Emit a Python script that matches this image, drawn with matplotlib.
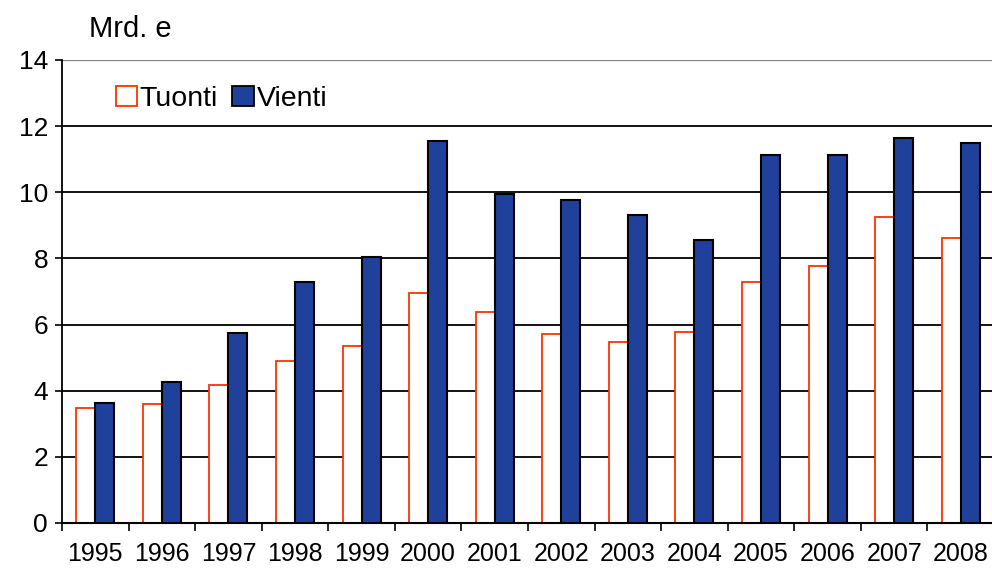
import matplotlib
matplotlib.use("Agg")
import matplotlib.pyplot as plt
import numpy as np
from matplotlib.patches import Patch

plt.rcParams['font.family'] = ['Liberation Sans', 'DejaVu Sans']

years = ['1995', '1996', '1997', '1998', '1999', '2000', '2001', '2002',
         '2003', '2004', '2005', '2006', '2007', '2008']
tuonti = [3.47, 3.59, 4.16, 4.90, 5.36, 6.96, 6.39, 5.71, 5.48, 5.77, 7.30, 7.77, 9.25, 8.63]
vienti = [3.64, 4.26, 5.75, 7.30, 8.05, 11.54, 9.94, 9.77, 9.30, 8.56, 11.14, 11.14, 11.65, 11.48]
yticks = [0, 2, 4, 6, 8, 10, 12, 14]

fig = plt.figure(figsize=(9.92, 5.72), dpi=100)
ax = fig.add_axes([0.0625, 0.0857, 0.9395, 0.8095])

x = np.arange(len(years))
w = 0.286
red = '#FF3300'
blue = '#1F409B'

for yv in yticks[1:-1]:
    ax.axhline(yv, color='black', lw=1.3, zorder=1)
ax.axhline(14, color='#808080', lw=1.6, zorder=1)

ax.bar(x - w / 2, tuonti, w, facecolor='white', edgecolor=red, lw=1.3, zorder=2, label='Tuonti')
ax.bar(x + w / 2, vienti, w, facecolor=blue, edgecolor='black', lw=1.5, zorder=3, label='Vienti')

ax.set_xlim(-0.5, len(years) - 0.5)
ax.set_ylim(0, 14)
ax.set_yticks(yticks)
ax.set_yticklabels([str(v) for v in yticks], fontsize=19)
ax.set_xticks(x)
ax.set_xticklabels(years, fontsize=18)
ax.set_xticks(np.arange(-0.5, len(years), 1), minor=True)
ax.tick_params(axis='x', which='major', length=0, pad=14)
ax.tick_params(axis='x', which='minor', length=6, width=1.2, direction='out')
ax.tick_params(axis='y', length=5, width=1.2, direction='out', pad=5)

for s in ['top', 'right']:
    ax.spines[s].set_visible(False)
ax.spines['left'].set_linewidth(1.3)
ax.spines['bottom'].set_linewidth(1.5)

handles = [Patch(facecolor='white', edgecolor=red, lw=1.3, label='Tuonti'),
           Patch(facecolor=blue, edgecolor='black', lw=1.3, label='Vienti')]
ax.legend(handles=handles, loc='upper left', bbox_to_anchor=(0.03, 1.0), ncol=2,
          frameon=False, fontsize=20.5, handlelength=0.75, handleheight=0.75,
          handletextpad=0.1, columnspacing=0.5)

fig.text(0.09, 0.95, 'Mrd. e', fontsize=21, ha='left', va='center')

fig.savefig('out.png', dpi=100)
